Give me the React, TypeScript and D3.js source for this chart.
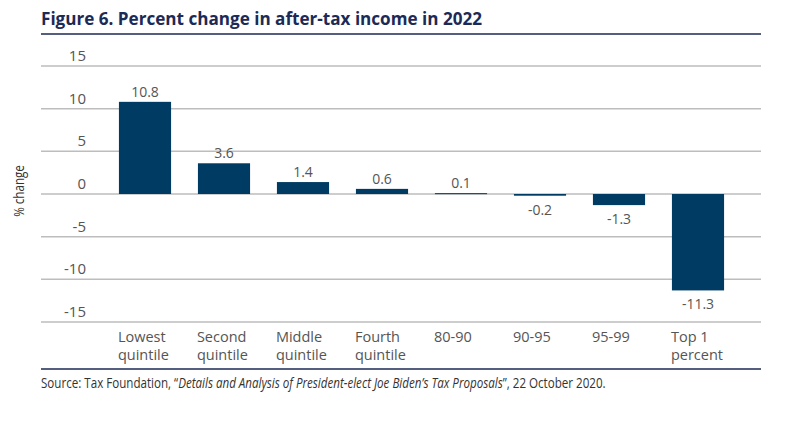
import React from "react";
import * as d3 from "d3";

const categories = [
  ["Lowest", "quintile"],
  ["Second", "quintile"],
  ["Middle", "quintile"],
  ["Fourth", "quintile"],
  ["80-90"],
  ["90-95"],
  ["95-99"],
  ["Top 1", "percent"],
];
const values = [10.8, 3.6, 1.4, 0.6, 0.1, -0.2, -1.3, -11.3];
const yTicks = [15, 10, 5, 0, -5, -10, -15];
const title = "Figure 6. Percent change in after-tax income in 2022";
const yLabel = "% change";
const sourceParts = [
  "Source: Tax Foundation, “",
  "Details and Analysis of President-elect Joe Biden’s Tax Proposals",
  "”, 22 October 2020.",
];

const W = 800;
const H = 425;
const NAVY = "#1b2a56";
const BAR = "#003b64";
const GRAY = "#555";

export default function App() {
  const x = d3
    .scaleBand<number>()
    .domain(values.map((_, i) => i))
    .range([105.5, 737.5])
    .paddingInner(0.34)
    .paddingOuter(0.17);
  const y = d3.scaleLinear().domain([-15, 15]).range([322, 66]);
  const sans = "'Open Sans', 'Noto Sans', sans-serif";

  return (
    <svg width={W} height={H} style={{ position: "absolute", left: 0, top: 0 }}>
      <rect width={W} height={H} fill="#fff" />
      <text
        x={41}
        y={25}
        fontFamily={sans}
        fontWeight={700}
        fontSize={17}
        fill={NAVY}
        textLength={441}
        lengthAdjust="spacingAndGlyphs"
      >
        {title}
      </text>
      <line x1={41} x2={761} y1={34} y2={34} stroke={NAVY} strokeWidth={1.5} />
      {yTicks.map((t) => (
        <g key={t}>
          <line x1={41} x2={761} y1={y(t)} y2={y(t)} stroke="#bdbdbd" strokeWidth={1.5} />
          <text x={86} y={y(t) - 5} textAnchor="end" fontFamily={sans} fontSize={15} fill={GRAY}>
            {t}
          </text>
        </g>
      ))}
      <text
        transform={`translate(24,191) rotate(-90) scale(0.8,1)`}
        textAnchor="middle"
        fontFamily={sans}
        fontSize={14.5}
        fill="#333"
      >
        {yLabel}
      </text>
      {values.map((v, i) => {
        const x0 = x(i)!;
        const top = y(Math.max(0, v));
        const bot = y(Math.min(0, v));
        return (
          <g key={i}>
            <rect x={x0} y={top} width={x.bandwidth()} height={Math.max(1, bot - top)} fill={BAR} />
            <text
              x={x0 + x.bandwidth() / 2}
              y={v >= 0 ? top - 5 : bot + 19}
              textAnchor="middle"
              fontFamily={sans}
              fontSize={14}
              fill={GRAY}
            >
              {v.toFixed(1)}
            </text>
            {categories[i].map((line, j) => (
              <text
                key={j}
                x={x0 - 1}
                y={342 + j * 18}
                fontFamily={sans}
                fontSize={14.5}
                fill={GRAY}
              >
                {line}
              </text>
            ))}
          </g>
        );
      })}
      <line x1={41} x2={761} y1={369} y2={369} stroke={NAVY} strokeWidth={1.5} />
      <text
        transform="translate(41,388) scale(0.8,1)"
        fontFamily={sans}
        fontSize={14.5}
        fill="#333"
      >
        {sourceParts[0]}
        <tspan fontStyle="italic">{sourceParts[1]}</tspan>
        {sourceParts[2]}
      </text>
    </svg>
  );
}
